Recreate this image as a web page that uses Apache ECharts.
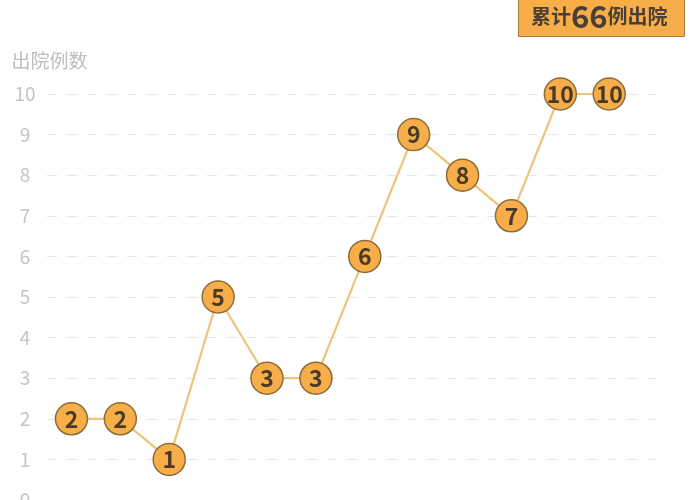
<!DOCTYPE html>
<html>
<head>
<meta charset="utf-8">
<script src="https://cdn.jsdelivr.net/npm/echarts@6/dist/echarts.min.js"></script>
<style>
  html, body { margin: 0; padding: 0; background: #fff; }
  #chart { width: 700px; height: 500px; }
</style>
</head>
<body>
<div id="chart"></div>
<script>
// 每日出院例数
const dayIndex = [0, 1, 2, 3, 4, 5, 6, 7, 8, 9, 10, 11];
const discharged = [2, 2, 1, 5, 3, 3, 6, 9, 8, 7, 10, 10];
const yTicks = [0, 1, 2, 3, 4, 5, 6, 7, 8, 9, 10];
const total = discharged.reduce((a, b) => a + b, 0);

const font = '"Noto Sans CJK SC", "Noto Sans", sans-serif';
const chart = echarts.init(document.getElementById('chart'));

chart.setOption({
  animation: false,
  backgroundColor: '#fff',
  textStyle: { fontFamily: font },
  grid: { left: 47, top: 94, width: 616, height: 406, containLabel: false, outerBoundsMode: 'none' },
  xAxis: {
    type: 'value',
    min: -0.5,
    max: 12.1,
    show: false,
    splitLine: { show: false }
  },
  yAxis: {
    type: 'value',
    min: yTicks[0],
    max: yTicks[yTicks.length - 1],
    interval: 1,
    name: '出院例数',
    nameLocation: 'end',
    nameGap: 24,
    nameTextStyle: { color: '#bdbdbd', fontSize: 19, align: 'left', padding: [0, 0, 0, -60] },
    axisLine: { show: false },
    axisTick: { show: false },
    axisLabel: { color: '#c4c4c4', fontSize: 19, margin: 12, align: 'center', padding: [0, 20, 0, 0] },
    splitLine: { lineStyle: { color: '#e6e6e6', width: 1.2, type: [10, 10] } }
  },
  series: [{
    type: 'line',
    data: dayIndex.map((d, i) => [d, discharged[i]]),
    symbol: 'circle',
    symbolSize: 32,
    lineStyle: { color: '#EEC37A', width: 2.2 },
    itemStyle: { color: '#F8AE48', borderColor: '#8E6B3A', borderWidth: 1.5 },
    label: {
      show: true,
      position: 'inside',
      formatter: p => p.value[1],
      color: '#4A3A28',
      fontSize: 23,
      fontWeight: 'bold',
      fontFamily: font
    },
    z: 3
  }],
  graphic: [{
    type: 'rect',
    left: 518,
    top: -2,
    shape: { width: 166, height: 38 },
    style: { fill: '#F8AE48', stroke: '#A57C3E', lineWidth: 1 }
  }, {
    type: 'text',
    left: 531,
    top: 1,
    style: {
      text: '{a|累计}{b|' + total + '}{a|例出院}',
      rich: {
        a: { fontSize: 20, fontWeight: 'bold', fill: '#4A3F35', fontFamily: font },
        b: { fontSize: 31, fontWeight: 'bold', fill: '#4A3F35', fontFamily: font }
      }
    }
  }]
});
</script>
</body>
</html>
